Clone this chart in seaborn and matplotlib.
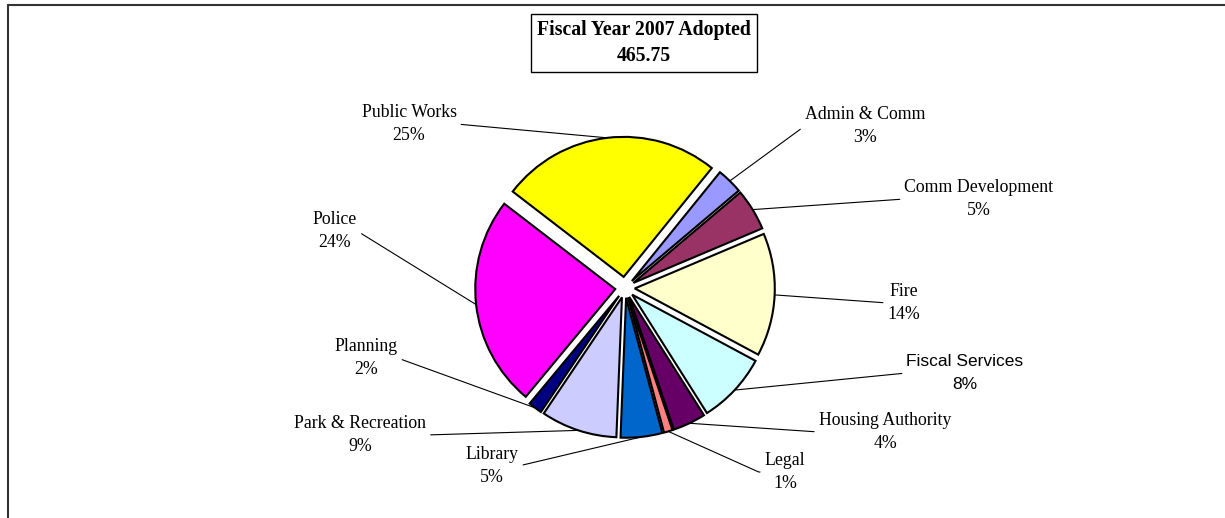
import numpy as np
import seaborn as sns
import matplotlib.pyplot as plt
from matplotlib.lines import Line2D

# datos del grafico (porcentaje del personal adoptado)
departments = ["Admin & Comm", "Comm Development", "Fire", "Fiscal Services",
               "Housing Authority", "Legal", "Library", "Park & Recreation",
               "Planning", "Police", "Public Works"]
shares = [3.0, 4.8, 14.2, 8.2, 3.8, 1.0, 4.8, 8.8, 1.6, 24.4, 25.4]
pct_labels = ["3%", "5%", "14%", "8%", "4%", "1%", "5%", "9%", "2%", "24%", "25%"]
slice_colors = ["#9999FF", "#993366", "#FFFFCC", "#CCFFFF", "#660066", "#FF8080",
                "#0066CC", "#CCCCFF", "#000080", "#FF00FF", "#FFFF00"]
total_label = "465.75"

sns.set_theme(style="white")
plt.rcParams['font.family'] = ['Liberation Serif', 'DejaVu Serif']
plt.rcParams['text.color'] = 'black'

W, H = 1225, 518
fig = plt.figure(figsize=(W / 100, H / 100), dpi=100)
ax = fig.add_axes([0, 0, 1, 1])

palette = sns.color_palette(slice_colors)
explode = [0.07] * len(shares)
explode[-1] = 0.08
wedges, _ = ax.pie(shares, colors=palette, startangle=51, counterclock=False,
                   explode=explode,
                   wedgeprops=dict(edgecolor="black", linewidth=1.5))

# escala: centro del pie en (625, 288) px, radio 140 px
R = 140.0
cx, cy = 625, H - 288
ax.set_xlim(-cx / R, (W - cx) / R)
ax.set_ylim(-cy / R, (H - cy) / R)
ax.set_aspect('auto')
ax.axis('off')

# posiciones de las etiquetas (px desde arriba a la izquierda)
label_pos = {
    "Admin & Comm": (865, 126),
    "Comm Development": (979, 199),
    "Fire": (904, 303),
    "Fiscal Services": (965, 373),
    "Housing Authority": (885, 432),
    "Legal": (785, 472),
    "Library": (492, 466),
    "Park & Recreation": (360, 435),
    "Planning": (366, 358),
    "Police": (335, 231),
    "Public Works": (409, 124),
}

for w, name, pct in zip(wedges, departments, pct_labels):
    mid = np.deg2rad((w.theta1 + w.theta2) / 2)
    px = w.center[0] + w.r * np.cos(mid)
    py = w.center[1] + w.r * np.sin(mid)
    lx, ly = label_pos[name]
    right = lx > cx
    props = dict(arrowstyle='-', color='black', lw=0.8, shrinkA=1, shrinkB=0,
                 relpos=(0, 0.5) if right else (1, 0.5))
    if name == "Legal":
        props['connectionstyle'] = "arc,angleA=180,armA=6,angleB=0,armB=0,rad=0"
    kw = dict(fontsize=12.8, linespacing=1.4)
    if name == "Fiscal Services":
        kw = dict(fontsize=12.5, linespacing=1.65, family=['Liberation Sans', 'DejaVu Sans'])
    ax.annotate(f"{name}\n{pct}", xy=(px, py), xycoords='data',
                xytext=(lx / W, 1 - ly / H), textcoords='figure fraction',
                ha='center', va='center', multialignment='center',
                arrowprops=props, **kw)

# titulo en recuadro
fig.text(644 / W, 1 - 43 / H, f"Fiscal Year 2007 Adopted\n{total_label}",
         ha='center', va='center', fontsize=14.2, fontweight='bold',
         linespacing=1.4,
         bbox=dict(boxstyle='square,pad=0.3', fc='white', ec='black', lw=1))

# marco superior e izquierdo
fig.add_artist(Line2D([8 / W, 8 / W], [0, 1 - 5 / H], color='#333333', lw=1.5))
fig.add_artist(Line2D([8 / W, 1], [1 - 5 / H, 1 - 5 / H], color='#333333', lw=1.5))

fig.savefig("out.png", dpi=100, facecolor='white')
